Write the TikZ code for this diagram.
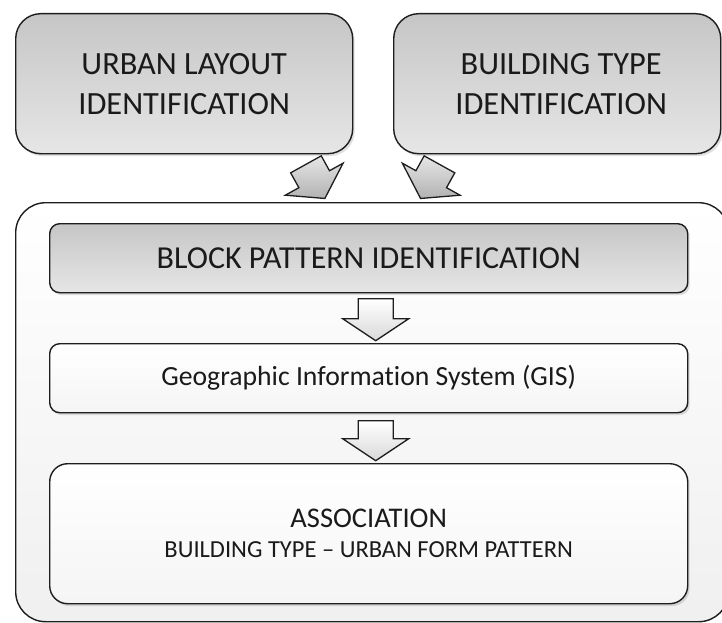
\documentclass[tikz,border=0pt]{standalone}
\usepackage{fontspec}
\setmainfont{Carlito}[Ligatures={NoCommon}]
\usetikzlibrary{shadows,calc}
\definecolor{edgec}{HTML}{1E1E1E}
\definecolor{txt}{HTML}{1A1A1A}
\definecolor{gtop}{HTML}{C6C6C6}
\definecolor{gbot}{HTML}{E6E6E6}
\newcommand\blockarrow[4]{%
  \begin{scope}[shift={(#1)},rotate=#2]
    \filldraw[#4] (-#3,-17.5) -- (#3-22,-17.5) -- (#3-22,-33) -- (#3,0)
      -- (#3-22,33) -- (#3-22,17.5) -- (-#3,17.5) -- cycle;
  \end{scope}}
\begin{document}
\begin{tikzpicture}[x=1pt,y=-1pt,
  boxbase/.style={draw=edgec, line width=1.4pt, inner sep=0pt, anchor=north west,
    text=txt, align=center, drop shadow={shadow xshift=2pt, shadow yshift=-2.5pt, opacity=0.25}},
  graybox/.style={boxbase, top color=gtop, bottom color=gbot},
  whitebox/.style={boxbase, top color=white, bottom color=white!96!black},
  container/.style={draw=edgec, line width=1.4pt, anchor=north west, inner sep=0pt,
    rounded corners=30pt, top color=white, bottom color=white!94!black},
  grayarrow/.style={draw=edgec, line width=1.3pt, line join=miter, top color=gbot, bottom color=gtop!90!black},
  whitearrow/.style={draw=edgec, line width=1.3pt, line join=miter, top color=white, bottom color=white!85!black}]
\useasboundingbox (0,0) rectangle (722,623);
\clip (0,0) rectangle (722,623);
\fill[white] (0,0) rectangle (722,623);

\node[container, minimum width=713pt, minimum height=419pt] (cont) at (15,202) {};

\node[graybox, rounded corners=25pt, minimum width=337pt, minimum height=140pt,
  font=\fontsize{32.4}{40}\selectfont] (ul) at (15,13) {URBAN LAYOUT\\IDENTIFICATION};
\node[graybox, rounded corners=25pt, minimum width=327pt, minimum height=140pt,
  font=\fontsize{32.4}{40}\selectfont] (bt) at (393,13) {\hspace*{8pt}BUILDING TYPE\\\hspace*{8pt}IDENTIFICATION};

\node[graybox, rounded corners=10pt, minimum width=638pt, minimum height=69pt,
  font=\fontsize{32}{36}\selectfont] (block) at (49,223) {BLOCK PATTERN IDENTIFICATION};
\node[whitebox, rounded corners=10pt, minimum width=638pt, minimum height=69pt,
  font=\fontsize{27.7}{32}\selectfont] (gis) at (49,343) {Geographic Information System (GIS)};
\node[whitebox, rounded corners=18pt, minimum width=638pt, minimum height=140pt,
  font=\fontsize{24.5}{30}\selectfont] (assoc) at (49,463)
  {{\fontsize{28.5}{30}\selectfont ASSOCIATION}\\BUILDING TYPE – URBAN FORM PATTERN};

% connectors (block arrows)
\coordinate (a1) at ($(block.south)!0.5!(gis.north)+(7,1.5)$);
\coordinate (a2) at ($(gis.south)!0.5!(assoc.north)+(7,2.5)$);
\coordinate (s1) at ($(ul.south east)+(-38,27)$);
\coordinate (s2) at ($(bt.south west)+(37,27)$);
\blockarrow{a1}{-90}{21}{whitearrow}
\blockarrow{a2}{-90}{20}{whitearrow}
\blockarrow{s1}{-61}{19.5}{grayarrow}
\blockarrow{s2}{-119}{19.5}{grayarrow}
\end{tikzpicture}
\end{document}
